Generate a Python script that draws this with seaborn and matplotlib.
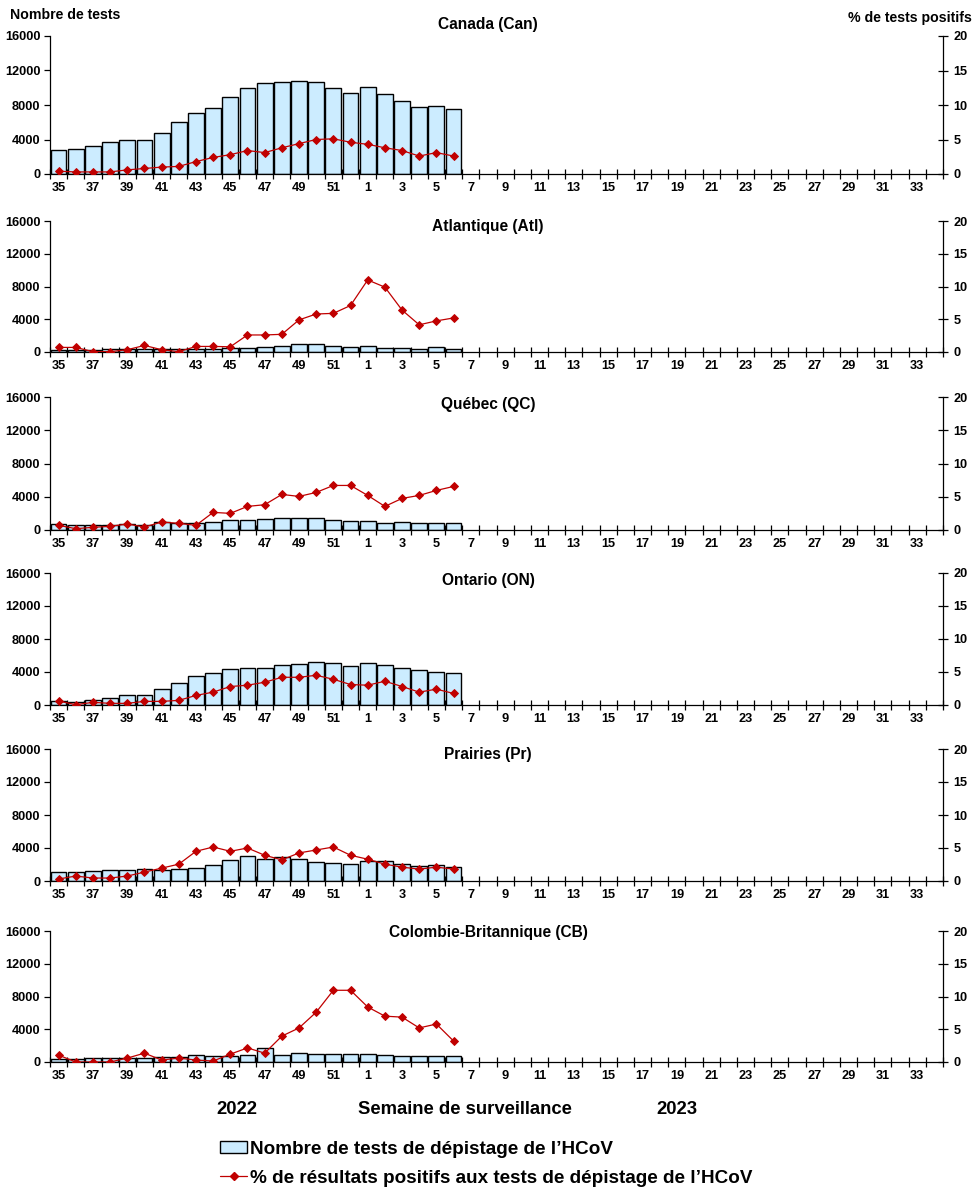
import numpy as np
import pandas as pd
import matplotlib
matplotlib.use("Agg")
import matplotlib.pyplot as plt
from matplotlib.patches import Patch
from matplotlib.lines import Line2D
import seaborn as sns

# ---------------- data ----------------
weeks_all = [str(w) for w in list(range(35, 53)) + list(range(1, 35))]
weeks_data = [str(w) for w in list(range(35, 53)) + list(range(1, 7))]

regions = ["Canada (Can)", "Atlantique (Atl)", "Québec (QC)",
           "Ontario (ON)", "Prairies (Pr)", "Colombie-Britannique (CB)"]

tests_can = [2800, 2900, 3200, 3700, 4000, 4000, 4800, 6000, 7100, 7700, 8950, 10000,
             10550, 10700, 10800, 10700, 10000, 9400, 10100, 9300, 8500, 7800, 7900, 7500]
pct_can = [0.4, 0.3, 0.3, 0.3, 0.6, 0.8, 1.0, 1.1, 1.8, 2.4, 2.8, 3.4,
           3.1, 3.8, 4.4, 5.0, 5.1, 4.6, 4.3, 3.8, 3.4, 2.6, 3.1, 2.6]

tests_atl = [200, 200, 240, 320, 320, 320, 320, 320, 330, 360, 450, 450,
             570, 690, 930, 930, 690, 570, 690, 450, 450, 320, 570, 320]
pct_atl = [0.7, 0.7, 0.05, 0.05, 0.35, 1.0, 0.35, 0.05, 0.85, 0.85, 0.8, 2.6,
           2.6, 2.7, 4.9, 5.8, 5.9, 7.1, 11.0, 9.9, 6.4, 4.15, 4.75, 5.2]

tests_qc = [680, 640, 640, 640, 760, 560, 920, 880, 880, 920, 1160, 1160,
            1280, 1400, 1400, 1400, 1160, 1040, 1040, 800, 920, 800, 800, 800]
pct_qc = [0.7, 0.2, 0.4, 0.55, 0.9, 0.45, 1.2, 1.0, 0.7, 2.65, 2.5, 3.55,
          3.8, 5.35, 5.05, 5.65, 6.7, 6.7, 5.2, 3.55, 4.75, 5.2, 5.95, 6.55]

tests_on = [480, 400, 650, 800, 1170, 1170, 1900, 2630, 3475, 3840, 4320, 4440,
            4440, 4800, 4930, 5170, 5050, 4690, 5050, 4800, 4440, 4200, 3960, 3840]
pct_on = [0.6, 0.05, 0.4, 0.25, 0.25, 0.55, 0.55, 0.7, 1.45, 1.95, 2.8, 3.0,
          3.45, 4.2, 4.2, 4.5, 3.9, 3.1, 3.0, 3.6, 2.8, 1.95, 2.4, 1.75]

tests_pr = [1090, 1090, 1210, 1330, 1330, 1450, 1330, 1450, 1570, 1930, 2540, 3020,
            2660, 2900, 2660, 2300, 2180, 2060, 2420, 2420, 2060, 1810, 1930, 1690]
pct_pr = [0.3, 0.75, 0.45, 0.45, 0.75, 1.35, 1.95, 2.55, 4.5, 5.15, 4.5, 5.0,
          3.9, 3.2, 4.25, 4.7, 5.15, 3.9, 3.3, 2.55, 2.1, 1.8, 2.1, 1.8]

tests_cb = [325, 325, 450, 450, 450, 450, 570, 570, 810, 690, 690, 810,
            1660, 810, 1050, 930, 930, 930, 930, 810, 690, 690, 690, 690]
pct_cb = [1.05, 0.0, 0.0, 0.0, 0.6, 1.35, 0.3, 0.6, 0.3, 0.15, 1.2, 2.15,
          1.35, 3.95, 5.2, 7.6, 10.95, 10.95, 8.4, 7.0, 6.85, 5.2, 5.8, 3.2]

tests_series = [tests_can, tests_atl, tests_qc, tests_on, tests_pr, tests_cb]
pct_series = [pct_can, pct_atl, pct_qc, pct_on, pct_pr, pct_cb]

left_ticks = [0, 4000, 8000, 12000, 16000]
right_ticks = [0, 5, 10, 15, 20]

bar_label = "Nombre de tests de dépistage de l\u2019HCoV"
line_label = "% de résultats positifs aux tests de dépistage de l\u2019HCoV"

# ---------------- style ----------------
sns.set_theme(style="ticks")
plt.rcParams["font.family"] = ["Liberation Sans", "DejaVu Sans"]
plt.rcParams["font.weight"] = "bold"
plt.rcParams["axes.linewidth"] = 0.9
plt.rcParams["text.color"] = "black"
plt.rcParams["axes.labelcolor"] = "black"
plt.rcParams["xtick.color"] = "black"
plt.rcParams["ytick.color"] = "black"
plt.rcParams["axes.edgecolor"] = "black"

BAR_COLOR = "#CCECFF"
LINE_COLOR = "#C00000"

W, H = 976, 1200
fig = plt.figure(figsize=(W / 100, H / 100), dpi=100)
fig.patch.set_facecolor("white")

# panel pixel bounds (top, bottom)
panels_px = [(36, 174), (221, 352), (397, 530), (573, 705), (749, 881), (931, 1062)]
title_y_px = [25, 227, 404, 580, 755, 932]
x_left, x_right = 50, 943

for i, (region, tests, pct) in enumerate(zip(regions, tests_series, pct_series)):
    top, bot = panels_px[i]
    ax = fig.add_axes([x_left / W, 1 - bot / H, (x_right - x_left) / W, (bot - top) / H])
    df = pd.DataFrame({"week": weeks_data, "tests": tests, "pct": pct})

    sns.barplot(data=df, x="week", y="tests", order=weeks_all, color=BAR_COLOR,
                saturation=1, edgecolor="black", linewidth=1.0, width=0.92, ax=ax)
    ax2 = ax.twinx()
    sns.pointplot(data=df, x="week", y="pct", order=weeks_all, color=LINE_COLOR,
                  markers="D", markersize=3.8, linewidth=0.9, errorbar=None, ax=ax2)

    ax.set_ylim(0, 16000)
    ax2.set_ylim(0, 20)
    ax.set_xlim(-0.5, len(weeks_all) - 0.5)
    ax.set_xlabel("")
    ax.set_ylabel("")
    ax2.set_xlabel("")
    ax2.set_ylabel("")

    ax.set_yticks(left_ticks)
    ax.set_yticklabels([str(t) for t in left_ticks], fontsize=9.2, fontweight="bold")
    ax2.set_yticks(right_ticks)
    ax2.set_yticklabels([str(t) for t in right_ticks], fontsize=9.2, fontweight="bold")

    ax.set_xticks(np.arange(-0.5, len(weeks_all), 1.0))
    ax.set_xticklabels([])
    ax.set_xticks(np.arange(0, len(weeks_all), 2), minor=True)
    ax.set_xticklabels(weeks_all[::2], minor=True, fontsize=9.2, fontweight="bold")

    ax.tick_params(axis="x", which="major", direction="inout", length=7, width=0.9, colors="black")
    ax.tick_params(axis="x", which="minor", length=0, pad=5.5, labelcolor="black")
    ax.tick_params(axis="y", which="major", direction="out", length=4, width=0.9, pad=3,
                   colors="black", left=True)
    ax2.tick_params(axis="y", which="major", direction="inout", length=7, width=0.9, pad=4,
                    colors="black", right=True)

    for s in ["top", "right"]:
        ax.spines[s].set_visible(False)
    for s in ["top", "left", "bottom"]:
        ax2.spines[s].set_visible(False)
    ax.spines["left"].set_color("black")
    ax.spines["bottom"].set_color("black")
    ax2.spines["right"].set_color("black")
    ax.set_facecolor("none")
    ax2.set_facecolor("none")

    fig.text(488 / W, 1 - title_y_px[i] / H, region, ha="center", va="center",
             fontsize=11.2, fontweight="bold", color="black")

fig.text(10 / W, 1 - 15 / H, "Nombre de tests", ha="left", va="center",
         fontsize=10.2, fontweight="bold", color="black")
fig.text(972 / W, 1 - 18 / H, "% de tests positifs", ha="right", va="center",
         fontsize=10.2, fontweight="bold", color="black")

fig.text(237 / W, 1 - 1110 / H, "2022", ha="center", va="center", fontsize=13.3,
         fontweight="bold", color="black")
fig.text(465 / W, 1 - 1110 / H, "Semaine de surveillance", ha="center", va="center",
         fontsize=13.3, fontweight="bold", color="black")
fig.text(677 / W, 1 - 1110 / H, "2023", ha="center", va="center", fontsize=13.3,
         fontweight="bold", color="black")

handles = [
    Patch(facecolor=BAR_COLOR, edgecolor="black", linewidth=1.0),
    Line2D([0], [0], color=LINE_COLOR, marker="D", markersize=3.8, linewidth=0.9),
]
fig.legend(handles, [bar_label, line_label], loc="upper left",
           bbox_to_anchor=(220 / W, 1 - 1141 / H), frameon=False,
           prop={"size": 13.6, "weight": "bold"}, handlelength=1.45, handleheight=0.6,
           handletextpad=0.12, labelspacing=0.62, borderpad=0, borderaxespad=0,
           labelcolor="black")

fig.savefig("out.png", dpi=100, facecolor="white")
